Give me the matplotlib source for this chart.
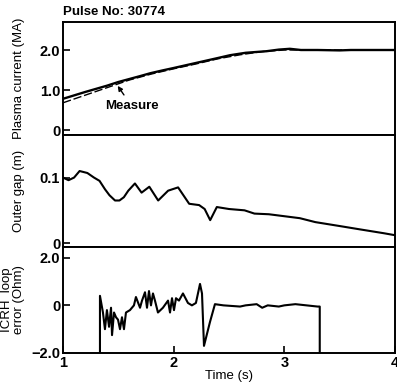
import matplotlib
matplotlib.use("Agg")
import matplotlib.pyplot as plt

plt.rcParams['font.family'] = ['Liberation Sans', 'DejaVu Sans']
plt.rcParams['font.weight'] = 'bold'
plt.rcParams['font.size'] = 9.5

# plasma current (MA)
ip_t = [1.0, 1.2, 1.4, 1.5, 1.7, 1.79, 1.9, 2.0, 2.24, 2.4, 2.51, 2.65, 2.84, 2.95, 3.05, 3.15, 3.3, 3.5, 3.6, 3.8, 4.0]
ip_meas = [0.78, 0.95, 1.11, 1.2, 1.35, 1.42, 1.49, 1.55, 1.7, 1.8, 1.87, 1.93, 1.97, 2.01, 2.03, 2.0, 2.0, 1.99, 2.0, 2.0, 2.0]
ip_ref_t = [1.0, 1.2, 1.4, 1.6, 1.8, 2.0, 2.2, 2.4, 2.6, 2.8, 3.0, 3.5, 4.0]
ip_ref = [0.68, 0.87, 1.06, 1.25, 1.4, 1.53, 1.65, 1.78, 1.88, 1.96, 2.0, 2.0, 2.0]

# outer gap (m)
gap_t = [1.0, 1.05, 1.1, 1.15, 1.22, 1.28, 1.33, 1.38, 1.42, 1.47, 1.51, 1.55, 1.59, 1.65, 1.71, 1.78, 1.86, 1.95,
         2.04, 2.14, 2.23, 2.28, 2.33, 2.39, 2.5, 2.64, 2.73, 2.86, 3.0, 3.14, 3.28, 3.5, 3.68, 3.9, 4.0]
gap = [0.1, 0.096, 0.1, 0.11, 0.107, 0.1, 0.095, 0.082, 0.073, 0.065, 0.065, 0.07, 0.08, 0.091, 0.077, 0.086, 0.065, 0.08,
       0.085, 0.06, 0.058, 0.052, 0.035, 0.055, 0.052, 0.05, 0.045, 0.044, 0.041, 0.038, 0.032, 0.026, 0.021, 0.015, 0.012]

# ICRH loop error (Ohm)
icrh_t = [1.334, 1.334, 1.361, 1.379, 1.397, 1.416, 1.434, 1.443, 1.461, 1.479, 1.497, 1.515, 1.533, 1.551,
          1.569, 1.605, 1.641, 1.659, 1.696, 1.714, 1.741, 1.759, 1.777, 1.795, 1.813, 1.831, 1.858,
          1.903, 1.949, 1.967, 1.985, 2.003, 2.021, 2.048, 2.084, 2.129, 2.165, 2.201, 2.238, 2.256,
          2.274, 2.328, 2.373, 2.45, 2.6, 2.65, 2.75, 2.8, 2.85, 2.95, 3.0, 3.1, 3.2, 3.3, 3.32, 3.32]
icrh = [-2.0, 0.4, -0.3, -1.0, -0.2, -0.9, -0.1, -1.25, -0.3, -0.5, -0.6, -1.0, -0.5, -1.0,
        -0.3, -0.2, 0.0, 0.35, -0.1, 0.2, 0.55, -0.1, 0.6, 0.0, 0.5, 0.2, -0.3,
        -0.1, 0.2, -0.3, 0.3, -0.2, 0.3, 0.2, 0.5, 0.1, 0.0, 0.1, 0.9, 0.5,
        -1.7, -0.7, 0.05, 0.0, -0.05, 0.0, 0.05, -0.1, 0.0, -0.05, 0.0, 0.05, 0.0, -0.05, -0.05, -2.0]

W, H = 397, 383
fig = plt.figure(figsize=(W / 100, H / 100), dpi=100)

def box(top, bottom):
    return [63 / W, 1 - bottom / H, 332 / W, (bottom - top) / H]

ax1 = fig.add_axes(box(22, 135))
ax2 = fig.add_axes(box(135, 247))
ax3 = fig.add_axes(box(247, 353))

ax1.plot(ip_t, ip_meas, "k", lw=1.7)
ax1.plot(ip_ref_t, ip_ref, "k--", lw=1.0, dashes=(6, 2))
ax1.annotate("Measure", xy=(1.48, 1.16), xytext=(1.62, 0.6), ha="center", va="center",
             fontweight="bold", fontsize=9.5,
             arrowprops=dict(arrowstyle="-|>", color="k", lw=1, mutation_scale=7, shrinkA=2))
ax1.set_ylim(-0.125, 2.7)
ax1.set_yticks([0, 1.0, 2.0])
ax1.set_yticklabels(["0", "1.0", "2.0"])
ax1.set_ylabel("Plasma current (MA)")

ax2.plot(gap_t, gap, "k", lw=1.5)
ax2.set_ylim(-0.006, 0.165)
ax2.set_yticks([0, 0.1])
ax2.set_yticklabels(["0", "0.1"])
ax2.set_ylabel("Outer gap (m)")

ax3.plot(icrh_t, icrh, "k", lw=1.5)
ax3.set_ylim(-2.0, 2.45)
ax3.set_yticks([-2.0, 0, 2.0])
ax3.set_yticklabels(["\u22122.0", "0", "2.0"])
ax3.set_ylabel("ICRH  loop\nerror (Ohm)", linespacing=1.0)
ax3.set_xticks([1, 2, 3, 4])
ax3.set_xticklabels(["1", "2", "3", "4"])
ax3.set_xlabel("Time (s)", labelpad=0)

for ax in (ax1, ax2, ax3):
    ax.set_xlim(1, 4)
    ax.tick_params(direction="in", length=5, width=1.2, labelsize=10.5, pad=2)
    ax.yaxis.set_label_coords(-0.115, 0.5)
    for s in ax.spines.values():
        s.set_linewidth(1.4)
for ax in (ax1, ax2):
    ax.tick_params(axis="x", bottom=False, labelbottom=False)

fig.text(63 / W, 1 - 12 / H, "Pulse No: 30774", ha="left", va="center", fontsize=9.5, fontweight="bold")

fig.savefig("out.png", dpi=100)
